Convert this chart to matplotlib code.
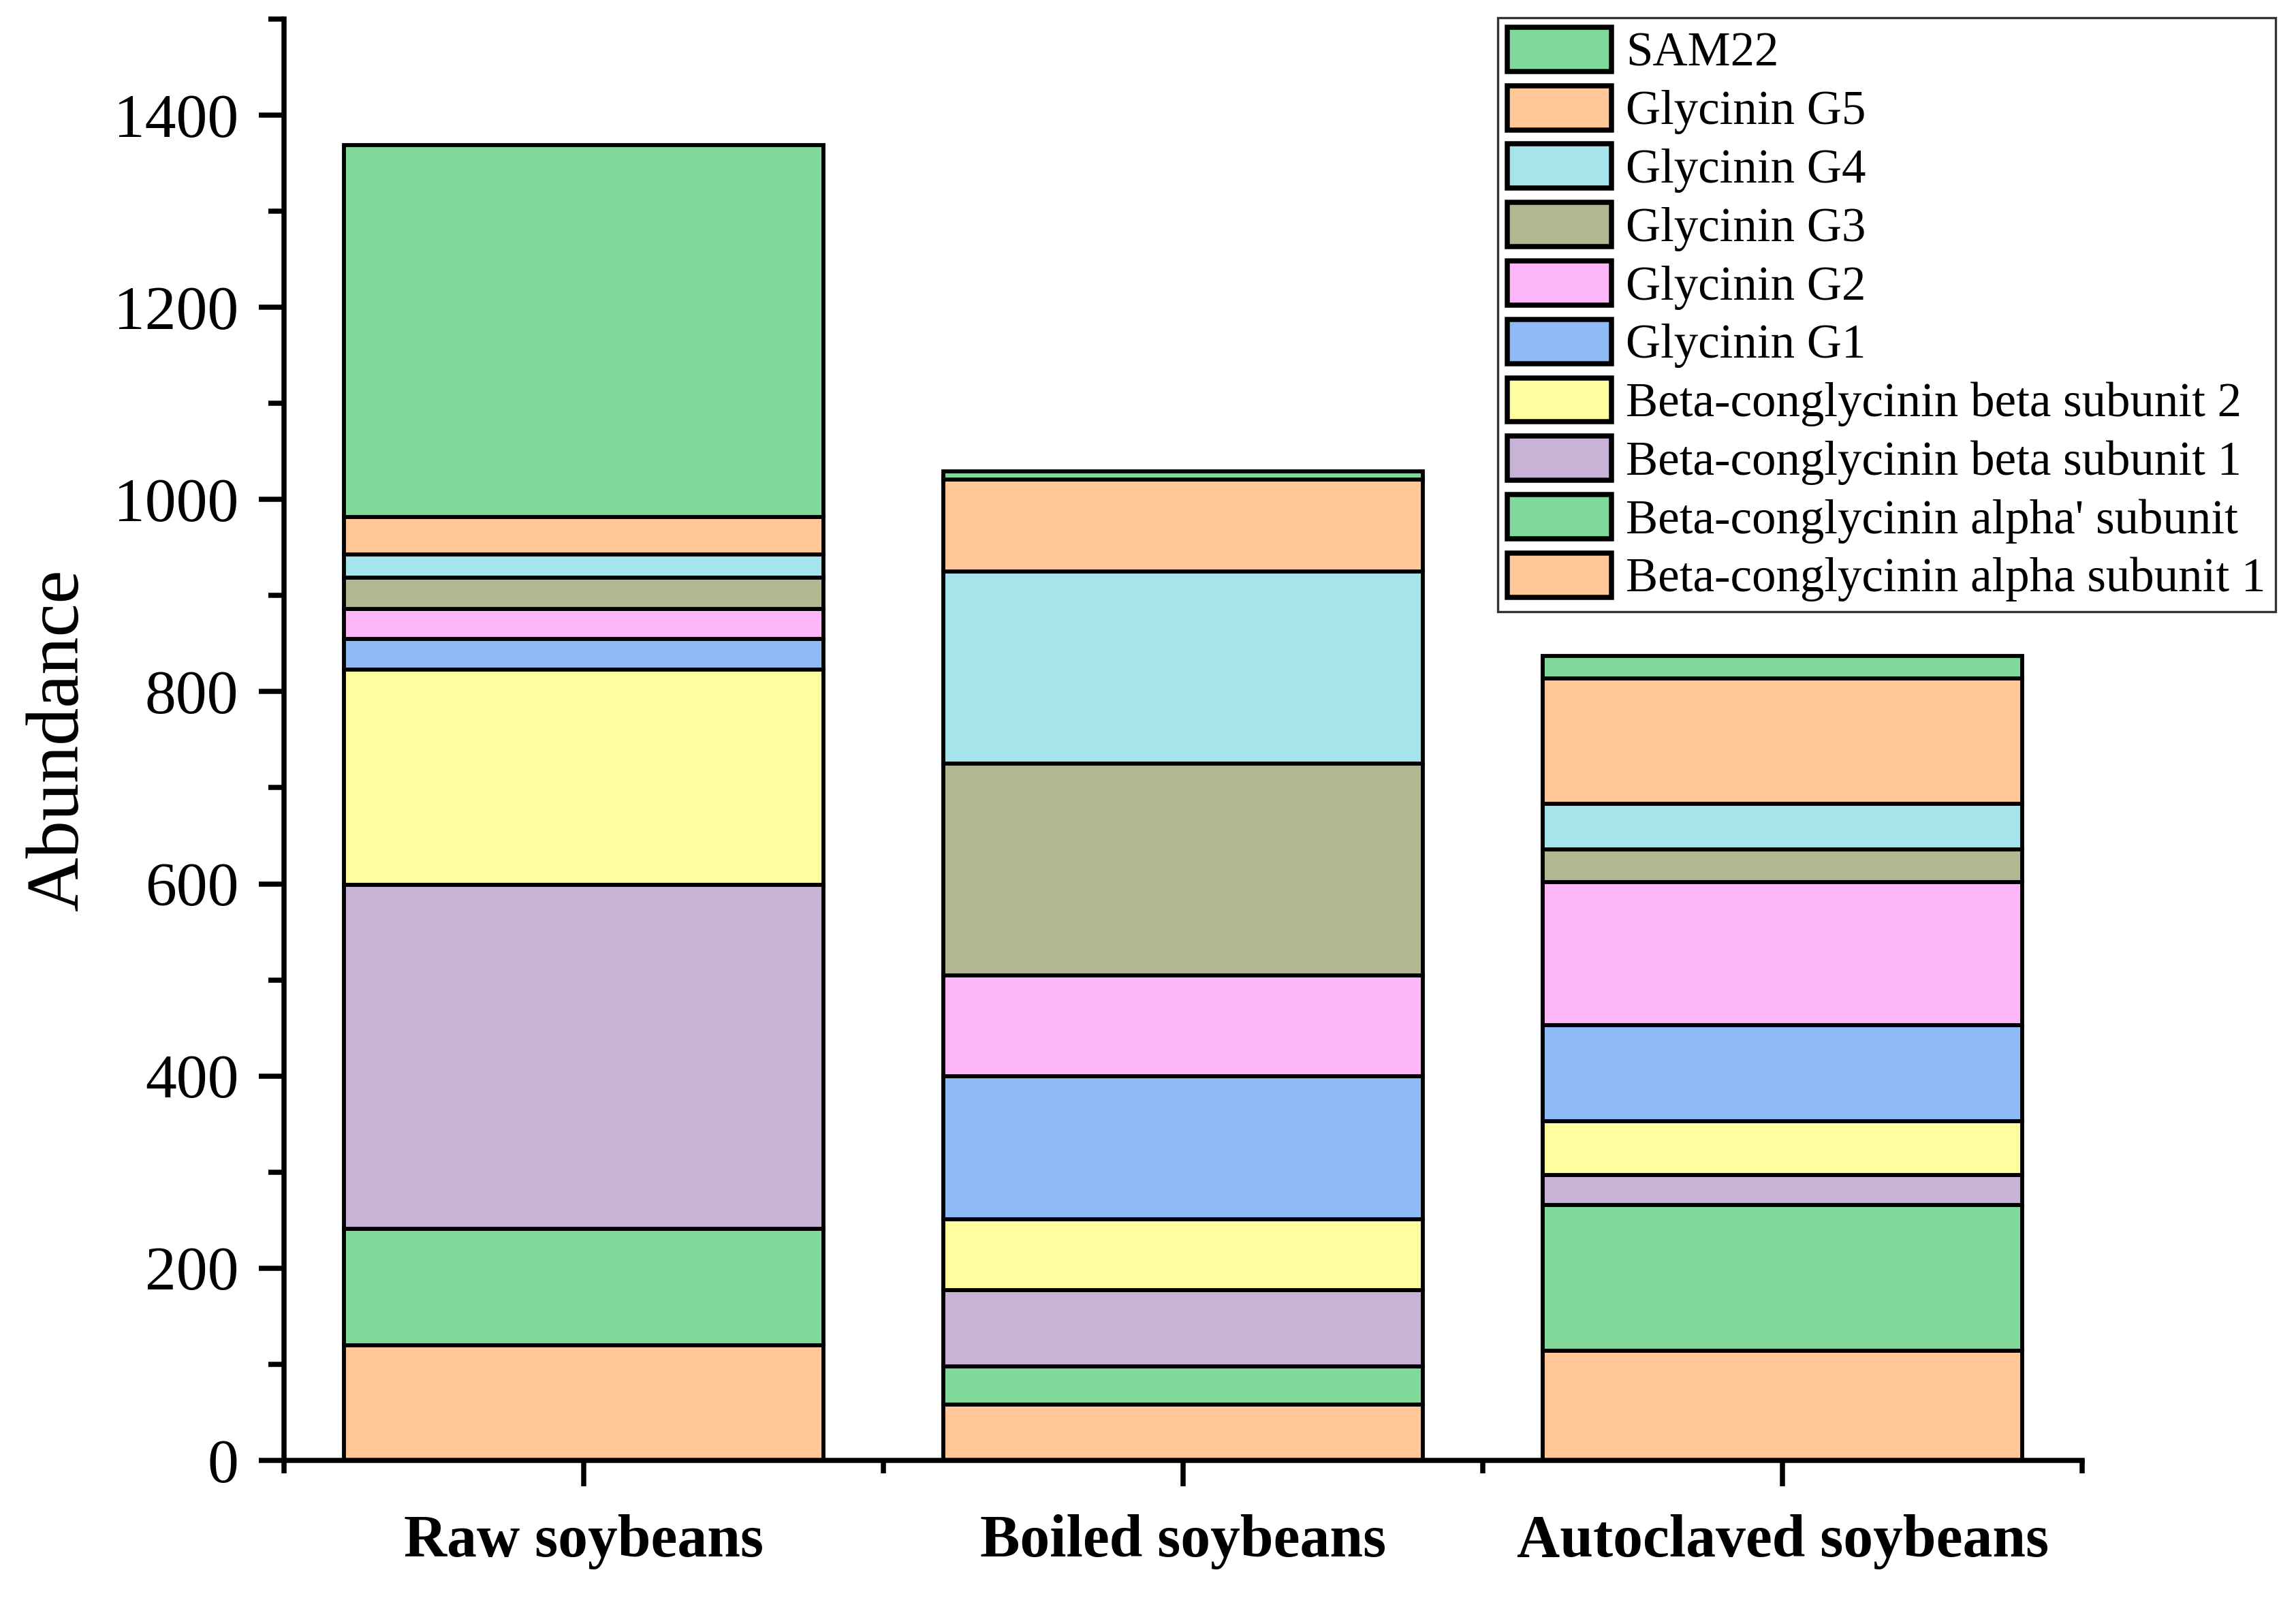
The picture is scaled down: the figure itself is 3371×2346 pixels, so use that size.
import numpy as np
import matplotlib
matplotlib.use('Agg')
from matplotlib import pyplot as plt
from matplotlib.ticker import MultipleLocator, FixedLocator

plt.rcParams['font.family'] = ['Liberation Serif', 'DejaVu Serif']

# samples
samples = ['Raw soybeans', 'Boiled soybeans', 'Autoclaved soybeans']

# proteins (stack order bottom -> top)
proteins = ['Beta-conglycinin alpha subunit 1', "Beta-conglycinin alpha' subunit",
            'Beta-conglycinin beta subunit 1', 'Beta-conglycinin beta subunit 2',
            'Glycinin G1', 'Glycinin G2', 'Glycinin G3', 'Glycinin G4',
            'Glycinin G5', 'SAM22']

alpha1 = [120, 58, 114]
alpha_prime = [121, 40, 152]
beta1 = [358, 79, 31]
beta2 = [224, 74, 56]
g1 = [32, 149, 100]
g2 = [31, 105, 149]
g3 = [33, 220, 34]
g4 = [24, 200, 47]
g5 = [39, 96, 131]
sam22 = [387, 8, 23]

colori = ['#FFC896', '#80D89A', '#C8B2D6', '#FEFE9E', '#8EBBF5',
          '#FEB6FA', '#B2B791', '#A6E4EB', '#FFC896', '#80D89A']

serie = [alpha1, alpha_prime, beta1, beta2, g1, g2, g3, g4, g5, sam22]

fig = plt.figure(figsize=(3371 / 300, 2346 / 300), dpi=300)
ax = fig.add_axes([0.1237, 0.0862, 0.907 - 0.1237, 0.988 - 0.0862])

x = np.arange(len(samples))
base = np.zeros(len(samples))
bars = []
for nome, valori, col in zip(proteins, serie, colori):
    b = ax.bar(x, valori, width=0.8, bottom=base, color=col,
               edgecolor='black', linewidth=1.4, label=nome)
    bars.append(b)
    base = base + np.array(valori)

#assi ------------------------------------
ax.set_xlim(-0.5, 2.5)
ax.set_ylim(0, 1500)
ax.spines['top'].set_visible(False)
ax.spines['right'].set_visible(False)
ax.spines['left'].set_linewidth(1.8)
ax.spines['bottom'].set_linewidth(1.8)

ax.yaxis.set_major_locator(FixedLocator(np.arange(0, 1401, 200)))
ax.yaxis.set_minor_locator(MultipleLocator(100))
ax.tick_params(axis='y', which='major', direction='out', length=9, width=1.8,
               labelsize=22, pad=7)
ax.tick_params(axis='y', which='minor', direction='out', length=5.5, width=1.8)

ax.set_xticks(x)
ax.set_xticklabels(samples, fontweight='bold', fontsize=21)
ax.xaxis.set_minor_locator(FixedLocator([-0.5, 0.5, 1.5, 2.5]))
ax.tick_params(axis='x', which='major', direction='out', length=9, width=1.8, pad=10)
ax.tick_params(axis='x', which='minor', direction='out', length=4.5, width=1.8)

ax.set_ylabel('Abundance', fontsize=26.5)
ax.yaxis.set_label_coords(-0.106, 0.5)

#legenda ---------------------------------
leg = fig.legend(bars[::-1], proteins[::-1], loc='upper right',
                 bbox_to_anchor=(0.991, 0.989), fontsize=17, frameon=True,
                 fancybox=False, edgecolor='black', handlelength=2.16,
                 handleheight=1.03, handletextpad=0.3, labelspacing=0.2,
                 borderpad=0.2, borderaxespad=0)
leg.get_frame().set_linewidth(0.8)
for h in leg.legend_handles:
    h.set_linewidth(1.8)

fig.savefig('out.png', dpi=300)
